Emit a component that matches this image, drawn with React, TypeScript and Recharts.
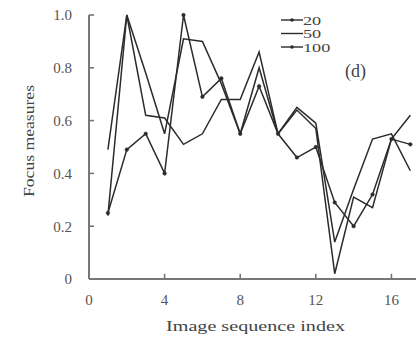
import { LineChart, Line, XAxis, YAxis, ReferenceLine, Customized } from "recharts";

// image index along the sequence
const indices = [1, 2, 3, 4, 5, 6, 7, 8, 9, 10, 11, 12, 13, 14, 15, 16, 17];

// focus measure curves for the three window sizes
const focus20 = [0.25, 0.49, 0.55, 0.4, 1.0, 0.69, 0.76, 0.55, 0.73, 0.55, 0.46, 0.5, 0.29, 0.2, 0.32, 0.53, 0.51];
const focus50 = [0.49, 1.0, 0.62, 0.61, 0.51, 0.55, 0.68, 0.68, 0.86, 0.55, 0.65, 0.59, 0.14, 0.34, 0.53, 0.55, 0.41];
const focus100 = [0.24, 1.0, 0.78, 0.55, 0.91, 0.9, 0.74, 0.55, 0.8, 0.55, 0.64, 0.57, 0.02, 0.31, 0.27, 0.53, 0.62];

const seriesNames = ["20", "50", "100"];
const xTicks = [0, 4, 8, 12, 16];
const yTicks = [0, 0.2, 0.4, 0.6, 0.8, 1.0];

const data = indices.map((idx, i) => ({
  idx,
  s20: focus20[i],
  s50: focus50[i],
  s100: focus100[i],
}));

const FONT = "'Liberation Serif', 'Times New Roman', serif";
const INK = "#2b2b2b";
const AXIS = "#777";
const LABEL = "#555";

// inward tick mark lengths in data units
const X_TICK = 0.02;
const Y_TICK = 0.27;

const tickText = { fill: LABEL, fontSize: 15, fontFamily: FONT };

function Annotations() {
  return (
    <g fontFamily={FONT} fill="#444">
      {/* legend */}
      {seriesNames.map((name, i) => {
        const y = 20 + i * 13.5;
        return (
          <g key={name}>
            <line x1={281} x2={303} y1={y} y2={y} stroke={INK} strokeWidth={1.4} />
            {i !== 1 && <circle cx={292} cy={y} r={1.8} fill={INK} />}
            <text fontSize={13} transform={`translate(303 ${y + 4.5}) scale(1.4 1)`}>
              {name}
            </text>
          </g>
        );
      })}
      <text x={345} y={77} fontSize={18}>
        (d)
      </text>
      <text x={166} y={331} fontSize={15} textLength={179} lengthAdjust="spacingAndGlyphs">
        Image sequence index
      </text>
      <text
        x={0}
        y={0}
        fontSize={15}
        textLength={112}
        lengthAdjust="spacingAndGlyphs"
        transform="translate(34 197) rotate(-90)"
      >
        Focus measures
      </text>
    </g>
  );
}

export default function App() {
  return (
    <div style={{ position: "absolute", left: 0, top: 0, background: "#fff" }}>
      <LineChart
        width={416}
        height={342}
        data={data}
        margin={{ top: 15, right: 0, left: 29, bottom: 33 }}
      >
        <XAxis
          dataKey="idx"
          type="number"
          domain={[0, 17.3]}
          ticks={xTicks}
          allowDataOverflow
          height={30}
          tickSize={0}
          tickMargin={15}
          axisLine={{ stroke: AXIS, strokeWidth: 2 }}
          tickLine={false}
          tick={tickText}
        />
        <YAxis
          type="number"
          domain={[0, 1]}
          ticks={yTicks}
          width={60}
          tickSize={0}
          tickMargin={17}
          tickFormatter={(v: number) => (v === 0 ? "0" : v.toFixed(1))}
          axisLine={{ stroke: AXIS, strokeWidth: 2 }}
          tickLine={false}
          tick={tickText}
        />
        {xTicks.map((t) => (
          <ReferenceLine
            key={`xt-${t}`}
            segment={[{ x: t, y: 0 }, { x: t, y: X_TICK }]}
            stroke={AXIS}
            strokeWidth={1.6}
            ifOverflow="visible"
          />
        ))}
        {yTicks.map((t) => (
          <ReferenceLine
            key={`yt-${t}`}
            segment={[{ x: 0, y: t }, { x: Y_TICK, y: t }]}
            stroke={AXIS}
            strokeWidth={1.6}
            ifOverflow="visible"
          />
        ))}
        <Line
          dataKey="s50"
          name={seriesNames[1]}
          stroke={INK}
          strokeWidth={1.5}
          dot={false}
          isAnimationActive={false}
          type="linear"
        />
        <Line
          dataKey="s100"
          name={seriesNames[2]}
          stroke={INK}
          strokeWidth={1.5}
          dot={false}
          isAnimationActive={false}
          type="linear"
        />
        <Line
          dataKey="s20"
          name={seriesNames[0]}
          stroke={INK}
          strokeWidth={1.5}
          dot={{ r: 1.8, fill: INK, stroke: INK, strokeWidth: 0.5 }}
          isAnimationActive={false}
          type="linear"
        />
        <Customized component={Annotations} />
      </LineChart>
    </div>
  );
}
